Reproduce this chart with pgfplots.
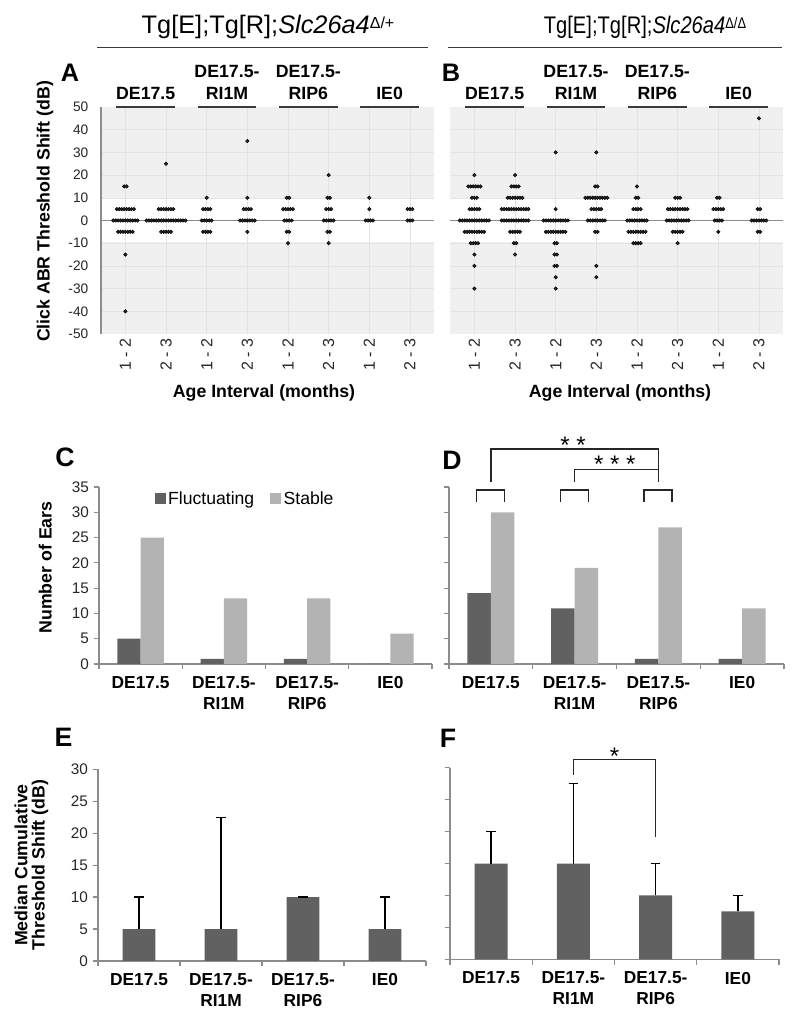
\documentclass[border=0pt]{standalone}
\usepackage{graphicx}
\usepackage{pgfplots}
\pgfplotsset{compat=1.18}
\usepackage{fontspec}
\setmainfont{Liberation Sans}
\definecolor{dotc}{HTML}{2A2A2A}
\definecolor{fluc}{HTML}{616161}
\definecolor{stab}{HTML}{B3B3B3}
\definecolor{axc}{HTML}{8C8C8C}
\definecolor{bgc}{HTML}{F0F0F0}
\definecolor{gridc}{HTML}{E3E3E3}
\definecolor{linec}{HTML}{3A3A3A}
\tikzset{
  grp/.style={anchor=south, inner sep=0pt, yshift=5.3pt, align=center, font=\bfseries\fontsize{13.3}{16.5}\selectfont},
  grpline/.style={line width=1.3pt, linec},
  bkt/.style={line width=1.1pt, black!85},
  star/.style={font=\fontsize{18}{18}\selectfont, yshift=-3.6pt},
  plab/.style={font=\bfseries\fontsize{20}{20}\selectfont}
}
\pgfplotsset{
  dotax/.style={scale only axis, anchor=south west, width=250pt, height=170.25pt,
    xmin=-0.6, xmax=7.6, ymin=-50, ymax=50, axis line style={draw=none}, clip=false,
    xtick={0,...,7}, xticklabels={1 - 2,2 - 3,1 - 2,2 - 3,1 - 2,2 - 3,1 - 2,2 - 3},
    xticklabel style={rotate=90, anchor=east, font=\fontsize{12}{12}\selectfont, text=black!85},
    major tick length=0pt, tick style={draw=none},
    ytick={-50,-40,...,50},
    yticklabel style={font=\fontsize{10.3}{10.3}\selectfont, xshift=-6pt, text=black!85}},
  barax/.style={scale only axis, anchor=south west, axis lines*=left,
    axis line style={axc, line width=0.9pt}, clip=false,
    xmin=-0.5, xmax=3.5, xtick={0,1,2,3}, minor xtick={-0.5,0.5,1.5,2.5,3.5},
    xticklabels={DE17.5,{DE17.5-\\RI1M},{DE17.5-\\RIP6},IE0},
    xticklabel style={align=center, font=\bfseries\fontsize{13}{15.5}\selectfont, yshift=-2pt},
    major x tick style={draw=none}, minor x tick style={axc, line width=0.9pt},
    ytick style={axc, line width=0.9pt}, tick align=outside,
    major tick length=4pt, minor tick length=4pt,
    yticklabel style={font=\fontsize{11.5}{11.5}\selectfont, text=black!85}},
  dots/.style={only marks, mark=*, mark size=1.3pt, mark options={draw=none, fill=dotc}},
  ebar/.style={ybar, bar width=0.4, fill=fluc, draw=none,
    error bars/.cd, y dir=plus, y explicit, error bar style={black, line width=1pt},
    error mark options={black, line width=1pt, mark size=3.5pt, rotate=90}}
}
\begin{document}
\begin{tikzpicture}
\path[use as bounding box] (0,0) rectangle (600pt,762pt);
% headers
\node[anchor=base, inner sep=0pt, font=\fontsize{19}{19}\selectfont] at (201pt,736.5pt)
  {Tg[E];Tg[R];\textit{Slc26a4}\raisebox{4.2pt}{\fontsize{12}{12}\selectfont Δ/+}};
\draw[line width=1.4pt, linec] (72.75pt,726.4pt) -- (321pt,726.4pt);
\node[anchor=base, inner sep=0pt] at (483.75pt,736.5pt)
  {\scalebox{0.84}[1]{\fontsize{18}{18}\selectfont Tg[E];Tg[R];\textit{Slc26a4}\raisebox{4pt}{\fontsize{11.5}{11.5}\selectfont Δ/Δ}}};
\draw[line width=1.4pt, linec] (336pt,726.4pt) -- (586.5pt,726.4pt);
% panel letters
\node[font=\bfseries\fontsize{19}{19}\selectfont] at (52.5pt,707.6pt) {A};
\node[font=\bfseries\fontsize{19}{19}\selectfont] at (338.25pt,707.6pt) {B};
\node[plab] at (48.75pt,418.9pt) {C};
\node[plab] at (339pt,417pt) {D};
\node[plab] at (47.6pt,209.25pt) {E};
\node[plab] at (336pt,208.1pt) {F};
% axis titles
\node[rotate=90, font=\bfseries\fontsize{13.3}{14}\selectfont] at (33.75pt,603.4pt) {Click ABR Threshold Shift (dB)};
\node[font=\bfseries\fontsize{13.3}{14}\selectfont] at (198pt,467.25pt) {Age Interval (months)};
\node[font=\bfseries\fontsize{13.3}{14}\selectfont] at (465pt,467.25pt) {Age Interval (months)};
\node[rotate=90, font=\bfseries\fontsize{13.3}{14}\selectfont] at (34pt,336.4pt) {Number of Ears};
\node[rotate=90, align=center, font=\bfseries\fontsize{13.3}{13}\selectfont] at (23.6pt,113.25pt) {Median Cumulative\\Threshold Shift (dB)};

% ---------------- Panel A
\begin{axis}[dotax, at={(75.75pt,511.5pt)},
  yticklabels={-50,-40,-30,-20,-10,0,10,20,30,40,50}]
\fill[bgc] (axis cs:-0.6,-50) rectangle (axis cs:7.6,50);
\fill[white] (axis cs:-0.6,-9.5) rectangle (axis cs:7.6,10);
\pgfplotsinvokeforeach{-40,-30,-20,-10,10,20,30,40}{\draw[gridc, line width=0.4pt] (axis cs:-0.6,#1) -- (axis cs:7.6,#1);}
\pgfplotsinvokeforeach{0,1,2,3,4,5,6,7}{\draw[gridc, line width=0.4pt] (axis cs:#1,-50) -- (axis cs:#1,50);}
\draw[axc, line width=1pt] (axis cs:-0.6,-50) -- (axis cs:-0.6,50);
\addplot[dots] coordinates {
(-0.03,15) (0.03,15)
(-0.21,5) (-0.15,5) (-0.09,5) (-0.03,5) (0.03,5) (0.09,5) (0.15,5) (0.21,5)
(-0.30,0) (-0.24,0) (-0.18,0) (-0.12,0) (-0.06,0) (0,0) (0.06,0) (0.12,0) (0.18,0) (0.24,0) (0.30,0)
(-0.18,-5) (-0.12,-5) (-0.06,-5) (0,-5) (0.06,-5) (0.12,-5) (0.18,-5)
(0,-15) (0,-40)
(1,25)
(0.82,5) (0.88,5) (0.94,5) (1,5) (1.06,5) (1.12,5) (1.18,5)
(0.52,0) (0.58,0) (0.64,0) (0.70,0) (0.76,0) (0.82,0) (0.88,0) (0.94,0) (1,0) (1.06,0) (1.12,0) (1.18,0) (1.24,0) (1.30,0) (1.36,0) (1.42,0) (1.48,0)
(0.88,-5) (0.94,-5) (1,-5) (1.06,-5) (1.12,-5)
(2,10)
(1.91,5) (1.97,5) (2.03,5) (2.09,5)
(1.88,0) (1.94,0) (2,0) (2.06,0) (2.12,0)
(1.91,-5) (1.97,-5) (2.03,-5) (2.09,-5)
(3,35) (3,10)
(2.91,5) (2.97,5) (3.03,5) (3.09,5)
(2.82,0) (2.88,0) (2.94,0) (3,0) (3.06,0) (3.12,0) (3.18,0)
(3,-5)
(3.97,10) (4.03,10)
(3.88,5) (3.94,5) (4,5) (4.06,5) (4.12,5)
(3.91,0) (3.97,0) (4.03,0) (4.09,0)
(3.97,-5) (4.03,-5)
(4,-10)
(5,20)
(4.97,10) (5.03,10)
(4.94,5) (5,5) (5.06,5)
(4.88,0) (4.94,0) (5,0) (5.06,0) (5.12,0)
(4.97,-5) (5.03,-5)
(5,-10)
(6,10) (6,5)
(5.91,0) (5.97,0) (6.03,0) (6.09,0)
(6.94,5) (7,5) (7.06,5)
(6.94,0) (7,0) (7.06,0)
};
\draw[axc, line width=1pt] (axis cs:-0.6,0) -- (axis cs:7.6,0);
\node[grp] at (axis cs:0.5,50) {DE17.5};
\node[grp] at (axis cs:2.5,50) {DE17.5-\\RI1M};
\node[grp] at (axis cs:4.5,50) {DE17.5-\\RIP6};
\node[grp] at (axis cs:6.5,50) {IE0};
\draw[grpline] (axis cs:-0.22,50) -- (axis cs:1.22,50);
\draw[grpline] (axis cs:1.78,50) -- (axis cs:3.22,50);
\draw[grpline] (axis cs:3.78,50) -- (axis cs:5.22,50);
\draw[grpline] (axis cs:5.78,50) -- (axis cs:7.22,50);
\end{axis}

% ---------------- Panel B
\begin{axis}[dotax, at={(337.5pt,511.5pt)}, yticklabels={}]
\fill[bgc] (axis cs:-0.6,-50) rectangle (axis cs:7.6,50);
\fill[white] (axis cs:-0.6,-9.5) rectangle (axis cs:7.6,10);
\pgfplotsinvokeforeach{-40,-30,-20,-10,10,20,30,40}{\draw[gridc, line width=0.4pt] (axis cs:-0.6,#1) -- (axis cs:7.6,#1);}
\pgfplotsinvokeforeach{0,1,2,3,4,5,6,7}{\draw[gridc, line width=0.4pt] (axis cs:#1,-50) -- (axis cs:#1,50);}
\addplot[dots] coordinates {
(0,20)
(-0.15,15) (-0.09,15) (-0.03,15) (0.03,15) (0.09,15) (0.15,15)
(-0.06,10) (0,10) (0.06,10)
(-0.12,5) (-0.06,5) (0,5) (0.06,5) (0.12,5)
(-0.36,0) (-0.30,0) (-0.24,0) (-0.18,0) (-0.12,0) (-0.06,0) (0,0) (0.06,0) (0.12,0) (0.18,0) (0.24,0) (0.30,0) (0.36,0)
(-0.24,-5) (-0.18,-5) (-0.12,-5) (-0.06,-5) (0,-5) (0.06,-5) (0.12,-5) (0.18,-5) (0.24,-5)
(-0.09,-10) (-0.03,-10) (0.03,-10) (0.09,-10)
(0,-15) (0,-20) (0,-30)
(1,20)
(0.91,15) (0.97,15) (1.03,15) (1.09,15)
(0.82,10) (0.88,10) (0.94,10) (1,10) (1.06,10) (1.12,10) (1.18,10)
(0.67,5) (0.73,5) (0.79,5) (0.85,5) (0.91,5) (0.97,5) (1.03,5) (1.09,5) (1.15,5) (1.21,5) (1.27,5) (1.33,5)
(0.67,0) (0.73,0) (0.79,0) (0.85,0) (0.91,0) (0.97,0) (1.03,0) (1.09,0) (1.15,0) (1.21,0) (1.27,0) (1.33,0)
(0.88,-5) (0.94,-5) (1,-5) (1.06,-5) (1.12,-5)
(0.97,-10) (1.03,-10)
(1,-15)
(2,30) (2,5)
(1.70,0) (1.76,0) (1.82,0) (1.88,0) (1.94,0) (2,0) (2.06,0) (2.12,0) (2.18,0) (2.24,0) (2.30,0)
(1.76,-5) (1.82,-5) (1.88,-5) (1.94,-5) (2,-5) (2.06,-5) (2.12,-5) (2.18,-5) (2.24,-5)
(1.97,-10) (2.03,-10) (1.97,-15) (2.03,-15) (1.97,-20) (2.03,-20)
(2,-25) (2,-30)
(3,30)
(2.97,15) (3.03,15)
(2.73,10) (2.79,10) (2.85,10) (2.91,10) (2.97,10) (3.03,10) (3.09,10) (3.15,10) (3.21,10) (3.27,10)
(2.88,5) (2.94,5) (3,5) (3.06,5) (3.12,5)
(2.79,0) (2.85,0) (2.91,0) (2.97,0) (3.03,0) (3.09,0) (3.15,0) (3.21,0)
(2.97,-5) (3.03,-5)
(3,-20) (3,-25)
(4,15)
(3.97,10) (4.03,10)
(3.91,5) (3.97,5) (4.03,5) (4.09,5)
(3.76,0) (3.82,0) (3.88,0) (3.94,0) (4,0) (4.06,0) (4.12,0) (4.18,0) (4.24,0)
(3.79,-5) (3.85,-5) (3.91,-5) (3.97,-5) (4.03,-5) (4.09,-5) (4.15,-5) (4.21,-5)
(3.91,-10) (3.97,-10) (4.03,-10) (4.09,-10)
(4.94,10) (5,10) (5.06,10)
(4.76,5) (4.82,5) (4.88,5) (4.94,5) (5,5) (5.06,5) (5.12,5) (5.18,5) (5.24,5)
(4.73,0) (4.79,0) (4.85,0) (4.91,0) (4.97,0) (5.03,0) (5.09,0) (5.15,0) (5.21,0) (5.27,0)
(4.88,-5) (4.94,-5) (5,-5) (5.06,-5) (5.12,-5)
(5,-10)
(5.97,10) (6.03,10)
(5.88,5) (5.94,5) (6,5) (6.06,5) (6.12,5)
(5.91,0) (5.97,0) (6.03,0) (6.09,0)
(6,-5)
(7,45)
(6.97,5) (7.03,5)
(6.82,0) (6.88,0) (6.94,0) (7,0) (7.06,0) (7.12,0) (7.18,0)
(6.97,-5) (7.03,-5)
};
\draw[axc, line width=1pt] (axis cs:-0.6,0) -- (axis cs:7.6,0);
\node[grp] at (axis cs:0.5,50) {DE17.5};
\node[grp] at (axis cs:2.5,50) {DE17.5-\\RI1M};
\node[grp] at (axis cs:4.5,50) {DE17.5-\\RIP6};
\node[grp] at (axis cs:6.5,50) {IE0};
\draw[grpline] (axis cs:-0.22,50) -- (axis cs:1.22,50);
\draw[grpline] (axis cs:1.78,50) -- (axis cs:3.22,50);
\draw[grpline] (axis cs:3.78,50) -- (axis cs:5.22,50);
\draw[grpline] (axis cs:5.78,50) -- (axis cs:7.22,50);
\end{axis}

% ---------------- Panel C
\begin{axis}[barax, at={(74.25pt,264pt)}, width=249.75pt, height=132.75pt,
  ymin=0, ymax=35, ytick={0,5,...,35}, yticklabels={0,5,10,15,20,25,30,35},
  legend style={draw=none, fill=none, at={(0.44,1.0)}, anchor=north, legend columns=2,
    font=\fontsize{13.2}{14}\selectfont, inner sep=1pt,
    /tikz/every even column/.append style={column sep=10pt}},
  legend image code/.code={\fill[#1] (0pt,-4pt) rectangle (8pt,4pt);}]
\addplot[ybar, bar width=0.28, bar shift=-0.14, fill=fluc, draw=none] coordinates {(0,5) (1,1) (2,1) (3,0)};
\addplot[ybar, bar width=0.28, bar shift=0.14, fill=stab, draw=none] coordinates {(0,25) (1,13) (2,13) (3,6)};
\legend{Fluctuating, Stable}
\end{axis}

% ---------------- Panel D
\begin{axis}[barax, at={(336.75pt,264pt)}, width=251.25pt, height=132.75pt,
  ymin=0, ymax=35, ytick={0,5,...,35}, yticklabels={}]
\addplot[ybar, bar width=0.28, bar shift=-0.14, fill=fluc, draw=none] coordinates {(0,14) (1,11) (2,1) (3,1)};
\addplot[ybar, bar width=0.28, bar shift=0.14, fill=stab, draw=none] coordinates {(0,30) (1,19) (2,27) (3,11)};
\draw[bkt] (axis cs:-0.17,32.0) -- (axis cs:-0.17,34.4) -- (axis cs:0.165,34.4) -- (axis cs:0.165,32.0);
\draw[bkt] (axis cs:0.83,32.0) -- (axis cs:0.83,34.4) -- (axis cs:1.165,34.4) -- (axis cs:1.165,32.0);
\draw[bkt] (axis cs:1.83,32.0) -- (axis cs:1.83,34.4) -- (axis cs:2.165,34.4) -- (axis cs:2.165,32.0);
\draw[bkt] (axis cs:0,36.0) -- (axis cs:0,42.5) -- (axis cs:2,42.5) -- (axis cs:2,36.0);
\draw[bkt] (axis cs:1,36.0) -- (axis cs:1,38.5) -- (axis cs:2,38.5);
\node[star] at (axis cs:0.98,44.3) {* *};
\node[star] at (axis cs:1.48,40.4) {* * *};
\end{axis}

% ---------------- Panel E
\begin{axis}[barax, at={(73.5pt,41.25pt)}, width=246pt, height=143.8pt,
  ymin=0, ymax=30, ytick={0,5,...,30}, yticklabels={0,5,10,15,20,25,30}]
\addplot[ebar] coordinates {(0,5) +- (0,5) (1,5) +- (0,17.5) (2,10) +- (0,0) (3,5) +- (0,5)};
\end{axis}

% ---------------- Panel F
\begin{axis}[barax, at={(337.5pt,42.5pt)}, width=246.75pt, height=143.7pt,
  ymin=0, ymax=30, ytick={0,5,...,30}, yticklabels={}]
\addplot[ebar] coordinates {(0,15) +- (0,5) (1,15) +- (0,12.5) (2,10) +- (0,5) (3,7.5) +- (0,2.5)};
\draw[bkt] (axis cs:1,28.9) -- (axis cs:1,31.3) -- (axis cs:2,31.3) -- (axis cs:2,19.1);
\node[star] at (axis cs:1.5,32.5) {*};
\end{axis}
\end{tikzpicture}
\end{document}
